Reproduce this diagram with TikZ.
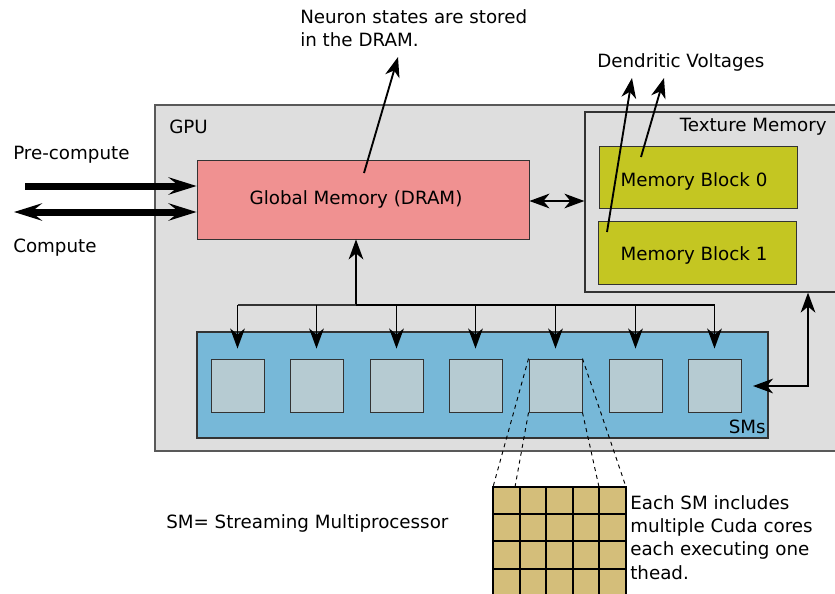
\documentclass[tikz,border=0pt]{standalone}
\usepackage{fontspec}
\setmainfont{DejaVu Sans}
\usetikzlibrary{arrows.meta,fit,calc}
\definecolor{gpufill}{HTML}{DEDEDE}
\definecolor{gmfill}{HTML}{F09191}
\definecolor{mbfill}{HTML}{C4C622}
\definecolor{smfill}{HTML}{77B8D8}
\definecolor{sqfill}{HTML}{B6CBD2}
\definecolor{cellfill}{HTML}{D4BE7A}
\tikzset{
  every node/.style={font=\fontsize{13.7pt}{17.5pt}\selectfont},
  gpubox/.style={draw=black!65, line width=0.9pt, fill=gpufill, inner sep=0pt},
  gmbox/.style={draw=black!80, line width=0.6pt, fill=gmfill, inner sep=0pt},
  texbox/.style={draw=black!80, line width=0.9pt, fill=gpufill, inner sep=0pt},
  mbbox/.style={draw=black!80, line width=0.6pt, fill=mbfill, inner sep=0pt},
  smbox/.style={draw=black!80, line width=0.9pt, fill=smfill, inner sep=0pt},
  sqbox/.style={draw=black!80, line width=0.7pt, fill=sqfill, minimum size=39.75pt, inner sep=0pt},
  cell/.style={draw=black, line width=1.5pt, fill=cellfill, minimum width=19.95pt, minimum height=20.4pt, inner sep=0pt},
  lbl/.style={inner sep=0pt, align=left},
  tipA/.tip={Stealth[length=15pt,width=11pt,inset=4.5pt]},
  conn/.style={draw=black, line width=1.4pt, -tipA},
  dconn/.style={draw=black, line width=1.4pt, tipA-tipA},
  tipB/.tip={Stealth[length=21pt,width=13pt,inset=8pt]},
  bigarrow/.style={draw=black, line width=5.25pt, -tipB},
  dbigarrow/.style={draw=black, line width=5.25pt, tipB-tipB},
  zoomline/.style={draw=black, line width=0.7pt, dashed},
}
\begin{document}
\begin{tikzpicture}[x=0.75pt,y=-0.75pt]
\path[use as bounding box, clip] (0,0) rectangle (835,593);
\fill[white] (0,0) rectangle (835,593);

% GPU
\node[gpubox, fit={(155,105) (880,451)}] (gpu) {};
\node[lbl, anchor=west] (gpulbl) at (169,127) {GPU};

% Global memory
\node[gmbox, fit={(197,160) (529,239)}] (gm) {};
\node[lbl] (gmtxt) at (356,199) {Global Memory (DRAM)};

% Texture memory
\node[texbox, fit={(585,112) (880,292)}] (tm) {};
\node[lbl, anchor=east] (tmlbl) at (827,127) {Texture Memory};
\node[mbbox, fit={(599,146) (797,208)}] (mb0) {};
\node[lbl] (mb0txt) at (694,181) {Memory Block 0};
\node[mbbox, fit={(598,221) (796,284)}] (mb1) {};
\node[lbl] (mb1txt) at (694,255) {Memory Block 1};

% SMs
\node[smbox, fit={(197,332) (768,438)}] (sm) {};
\node[lbl, anchor=south east] (smlbl) at (766,434) {SMs};
\foreach \i/\x in {1/237.5,2/316.5,3/396.5,4/475.5,5/555.5,6/635.5,7/714.5}{
  \node[sqbox] (s\i) at (\x,385.5) {};
}

% bus
\coordinate (bus) at (356,305);
\draw[conn] (bus) -- (bus |- gm.south);
\draw[black!80, line width=1.1pt] (s1.north |- bus) -- (bus);
\draw[black, line width=1.4pt] (bus) -- (s7.north |- bus);
\foreach \i in {1,...,7}{
  \draw[conn] (s\i.north |- bus) -- ($(s\i.north)+(0,-10)$);
}

% global <-> texture
\draw[dconn] (gm.east |- 0,201) -- (tm.west |- 0,201);

% texture <-> SMs
\coordinate (rc) at (808,386);
\draw[dconn] (tm.south -| rc) -- (rc) -- (753,386);

% input arrows
\coordinate (pc) at (25,186);
\coordinate (cp) at (14,212);
\draw[bigarrow] (pc) -- (gm.west |- pc);
\draw[dbigarrow] (cp) -- (gm.west |- cp);
\node[lbl, anchor=west] (pclbl) at (13,155) {Pre-compute};
\node[lbl, anchor=west] (cplbl) at (13,248) {Compute};

% neuron states annotation
\node[lbl, anchor=north west] (ns) at (300,9) {Neuron states are stored\\in the DRAM.};
\coordinate (nsa) at (364,173);
\coordinate (nsb) at (398,57);
\draw[conn] (nsa) -- (nsb);

% dendritic voltages
\node[lbl, anchor=west] (dv) at (597,62) {Dendritic Voltages};
\coordinate (dva) at (607,232);
\coordinate (dvb) at (632,78);
\coordinate (dvc) at (641,157);
\coordinate (dvd) at (664,78);
\draw[conn] (dva) -- (dvb);
\draw[conn] (dvc) -- (dvd);

% cores grid
\foreach \r in {1,...,4}{
  \foreach \c in {1,...,5}{
    \node[cell] (c-\r-\c) at ({493+26.6*(\c-0.5)},{487+27.2*(\r-0.5)}) {};
  }
}
\coordinate (z1) at (493,487);
\coordinate (z2) at (515,487);
\coordinate (z3) at (599,487);
\coordinate (z4) at (626,487);
\draw[zoomline] (s5.north west) -- (z1);
\draw[zoomline] (s5.south west) -- (z2);
\draw[zoomline] (s5.south east) -- (z3);
\draw[zoomline] (s5.north east) -- (z4);

\node[lbl, anchor=north west] (cores) at (630,495) {Each SM includes\\multiple Cuda cores\\each executing one\\thead.};
\node[lbl, anchor=west] (smdef) at (166,523) {SM= Streaming Multiprocessor};
\end{tikzpicture}
\end{document}
